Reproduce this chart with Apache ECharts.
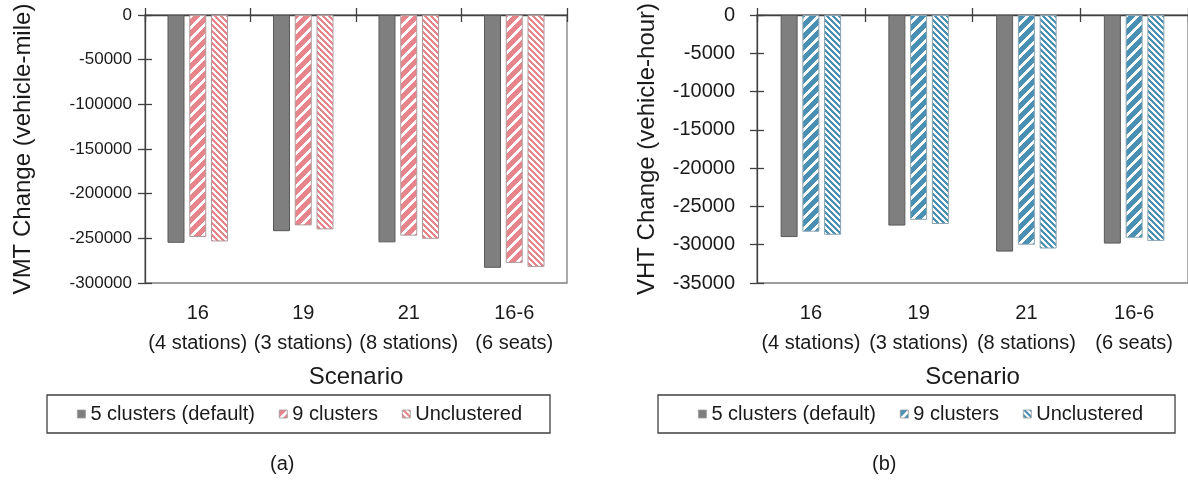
<!DOCTYPE html>
<html>
<head>
<meta charset="utf-8">
<script src="https://cdn.jsdelivr.net/npm/echarts@6/dist/echarts.min.js"></script>
<style>
html,body{margin:0;padding:0;background:#fff;}
#c{width:1188px;height:484px;}
</style>
</head>
<body>
<div id="c"></div>
<script>
// ---- data ----
const categories = ['16\n(4 stations)', '19\n(3 stations)', '21\n(8 stations)', '16-6\n(6 seats)'];
const seriesNames = ['5 clusters (default)', '9 clusters', 'Unclustered'];
const vmt5 = [-255000, -242000, -254500, -283000];
const vmt9 = [-248500, -235500, -247000, -277500];
const vmtU = [-253500, -240000, -250500, -282000];
const vht5 = [-29000, -27500, -30900, -29850];
const vht9 = [-28300, -26750, -30000, -29100];
const vhtU = [-28700, -27300, -30500, -29500];
const vmtAxis = {min: -300000, max: 0, interval: 50000};
const vhtAxis = {min: -35000, max: 0, interval: 5000};
const titles = {vmt: 'VMT Change (vehicle-mile)', vht: 'VHT Change (vehicle-hour)', x: 'Scenario', a: '(a)', b: '(b)'};

const FONT = "'Liberation Sans', Arial, sans-serif";
const GRAY = '#7f7f7f';
const PINK = '#e6858b';
const BLUE = '#4a90b4';

function stripes(color, period, band, dir) {
  const c = document.createElement('canvas');
  c.width = period; c.height = period;
  const ctx = c.getContext('2d');
  ctx.fillStyle = '#ffffff';
  ctx.fillRect(0, 0, period, period);
  ctx.fillStyle = color;
  for (let y = 0; y < period; y++) {
    for (let x = 0; x < period; x++) {
      const v = dir > 0 ? (x + y) % period : (((x - y) % period) + period) % period;
      if (v < band) ctx.fillRect(x, y, 1, 1);
    }
  }
  return {image: c, repeat: 'repeat'};
}

const chart = echarts.init(document.getElementById('c'), null, {renderer: 'canvas'});

function makeX(grid, kind) {
  const base = {type: 'category', gridIndex: grid, data: categories, boundaryGap: true};
  if (kind === 'topOut') return Object.assign(base, {
    position: 'top',
    axisLine: {show: true, onZero: false, lineStyle: {color: '#404040', width: 1.3}},
    axisTick: {show: true, inside: false, length: 7, lineStyle: {color: '#404040', width: 1.3}},
    axisLabel: {show: false}, splitLine: {show: false}
  });
  if (kind === 'topIn') return Object.assign(base, {
    position: 'top',
    axisLine: {show: false, onZero: false},
    axisTick: {show: true, inside: true, length: 7, lineStyle: {color: '#404040', width: 1.3}},
    axisLabel: {show: false}, splitLine: {show: false}
  });
  return Object.assign(base, {
    position: 'bottom',
    axisLine: {show: false, onZero: false},
    axisTick: {show: false},
    axisLabel: {show: true, interval: 0, fontSize: 20, lineHeight: 30, color: '#1a1a1a', fontFamily: FONT, margin: 15},
    name: titles.x, nameLocation: 'middle', nameGap: 82,
    nameTextStyle: {fontSize: 24, color: '#1a1a1a', fontFamily: FONT},
    splitLine: {show: false}
  });
}

function makeY(grid, ax, name, labelMargin, nameGap, labelSize, inside) {
  const base = {type: 'value', gridIndex: grid, min: ax.min, max: ax.max, interval: ax.interval, position: 'left', splitLine: {show: false}};
  if (inside) return Object.assign(base, {
    axisLine: {show: false, onZero: false},
    axisTick: {show: true, inside: true, length: 7, lineStyle: {color: '#404040', width: 1.3}},
    axisLabel: {show: false}
  });
  return Object.assign(base, {
    axisLine: {show: true, onZero: false, lineStyle: {color: '#404040', width: 1.3}},
    axisTick: {show: true, inside: false, length: 7, lineStyle: {color: '#404040', width: 1.3}},
    axisLabel: {show: true, fontSize: labelSize, color: '#1a1a1a', fontFamily: FONT, margin: labelMargin,
      formatter: v => String(v)},
    name: name, nameLocation: 'middle', nameGap: nameGap, nameRotate: 90,
    nameTextStyle: {fontSize: 24, color: '#1a1a1a', fontFamily: FONT}
  });
}

function bar(name, data, xi, yi, color, border) {
  return {
    type: 'bar', name: name, data: data, xAxisIndex: xi, yAxisIndex: yi,
    barWidth: 17, barGap: '28%',
    itemStyle: {color: color, borderColor: border, borderWidth: 1},
    emphasis: {disabled: true}, animation: false
  };
}

const pink9 = stripes(PINK, 11, 7, 1);
const pinkU = stripes(PINK, 6, 3, -1);
const blue9 = stripes(BLUE, 11, 7, 1);
const blueU = stripes(BLUE, 6, 3, -1);

const legendBase = {
  orient: 'horizontal', top: 395, itemWidth: 8, itemHeight: 8, itemGap: 24,
  borderColor: '#404040', borderWidth: 1.3, selectedMode: false,
  textStyle: {fontSize: 20, color: '#1a1a1a', fontFamily: FONT},
  icon: 'rect', itemStyle: {borderColor: '#999', borderWidth: 0.8}
};

const option = {
  backgroundColor: '#ffffff',
  animation: false,
  textStyle: {fontFamily: FONT},
  grid: [
    {left: 145, top: 15, width: 422, height: 268, show: true, borderColor: '#7f7f7f', borderWidth: 1.3, backgroundColor: 'transparent', containLabel: false},
    {left: 757, top: 15, width: 433, height: 268, show: true, borderColor: '#7f7f7f', borderWidth: 1.3, backgroundColor: 'transparent', containLabel: false}
  ],
  xAxis: [makeX(0, 'topOut'), makeX(0, 'topIn'), makeX(0, 'bottom'), makeX(1, 'topOut'), makeX(1, 'topIn'), makeX(1, 'bottom')],
  yAxis: [
    makeY(0, vmtAxis, titles.vmt, 13, 110, 17, false),
    makeY(0, vmtAxis, '', 0, 0, 17, true),
    makeY(1, vhtAxis, titles.vht, 22, 98, 20, false),
    makeY(1, vhtAxis, '', 0, 0, 20, true)
  ],
  legend: [
    Object.assign({}, legendBase, {left: 47, padding: [9, 28, 9, 30], data: seriesNames}),
    Object.assign({}, legendBase, {left: 658, padding: [9, 32, 9, 40], data: seriesNames.map(n => 'b:' + n),
      formatter: n => n.replace(/^b:/, '')})
  ],
  series: [
    bar(seriesNames[0], vmt5, 2, 0, GRAY, '#5a5a5a'),
    bar(seriesNames[1], vmt9, 2, 0, pink9, '#b09a9c'),
    bar(seriesNames[2], vmtU, 2, 0, pinkU, '#b09a9c'),
    bar('b:' + seriesNames[0], vht5, 5, 2, GRAY, '#5a5a5a'),
    bar('b:' + seriesNames[1], vht9, 5, 2, blue9, '#8aa4b0'),
    bar('b:' + seriesNames[2], vhtU, 5, 2, blueU, '#8aa4b0')
  ],
  graphic: [
    {type: 'text', left: 270, top: 454, style: {text: titles.a, fontSize: 20, fill: '#1a1a1a', font: "20px 'Liberation Sans', Arial, sans-serif"}},
    {type: 'text', left: 872, top: 454, style: {text: titles.b, fontSize: 20, fill: '#1a1a1a', font: "20px 'Liberation Sans', Arial, sans-serif"}}
  ]
};
chart.setOption(option);
</script>
</body>
</html>
